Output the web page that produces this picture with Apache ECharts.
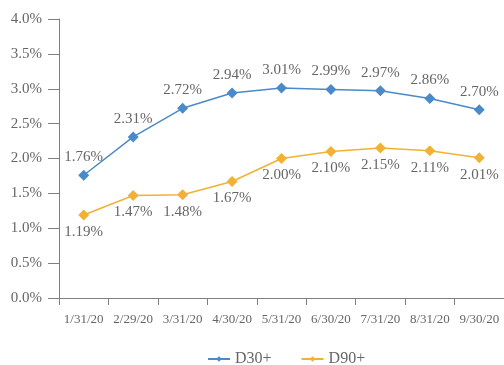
<!DOCTYPE html>
<html>
<head>
<meta charset="utf-8">
<script src="https://cdn.jsdelivr.net/npm/echarts@6/dist/echarts.min.js"></script>
<style>
  html, body { margin: 0; padding: 0; background: #ffffff; }
  #chart { width: 504px; height: 365px; }
</style>
</head>
<body>
<div id="chart"></div>
<script>
// Month-end reporting dates
const categories = ['1/31/20', '2/29/20', '3/31/20', '4/30/20', '5/31/20', '6/30/20', '7/31/20', '8/31/20', '9/30/20'];
// Delinquency rates, in percent
const d30Values = [1.76, 2.31, 2.72, 2.94, 3.01, 2.99, 2.97, 2.86, 2.70];
const d90Values = [1.19, 1.47, 1.48, 1.67, 2.00, 2.10, 2.15, 2.11, 2.01];
const seriesNames = ['D30+', 'D90+'];
const yTicks = { min: 0, max: 4, interval: 0.5 };

const FONT = '"Liberation Serif", "Times New Roman", serif';
const TEXT = '#666666';
const AXIS = '#7f7f7f';
const BLUE = '#4a8ac9';
const ORANGE = '#f2b134';

const chart = echarts.init(document.getElementById('chart'), null, { renderer: 'canvas' });

function lineSeries(name, data, color, labelPos, labelDist) {
  return {
    name: name,
    type: 'line',
    data: data,
    symbol: 'diamond',
    symbolSize: 11,
    lineStyle: { color: color, width: 1.5 },
    itemStyle: { color: color },
    label: {
      show: true,
      position: labelPos,
      distance: labelDist,
      color: TEXT,
      fontFamily: FONT,
      fontSize: 15,
      formatter: p => p.value.toFixed(2) + '%'
    },
    emphasis: { disabled: true },
    animation: false
  };
}

chart.setOption({
  animation: false,
  textStyle: { fontFamily: FONT },
  grid: { left: 59, right: -3, top: 19, bottom: 67 },
  xAxis: {
    type: 'category',
    data: categories,
    boundaryGap: true,
    axisLine: { lineStyle: { color: AXIS, width: 1 } },
    axisTick: { show: true, length: 7, lineStyle: { color: AXIS } },
    axisLabel: { color: TEXT, fontFamily: FONT, fontSize: 13, margin: 15, interval: 0 }
  },
  yAxis: {
    type: 'value',
    min: yTicks.min,
    max: yTicks.max,
    interval: yTicks.interval,
    axisLine: { show: true, lineStyle: { color: AXIS, width: 1 } },
    axisTick: { show: true, length: 11, lineStyle: { color: AXIS } },
    splitLine: { show: false },
    axisLabel: {
      color: TEXT, fontFamily: FONT, fontSize: 15, margin: 17,
      formatter: v => v.toFixed(1) + '%'
    }
  },
  legend: {
    data: seriesNames,
    left: 207,
    top: 351,
    padding: 0,
    itemWidth: 22,
    itemHeight: 7,
    itemGap: 29,
    textStyle: { color: TEXT, fontFamily: FONT, fontSize: 16 }
  },
  series: [
    lineSeries(seriesNames[0], d30Values, BLUE, 'top', 5),
    lineSeries(seriesNames[1], d90Values, ORANGE, 'bottom', 4)
  ]
});
</script>
</body>
</html>
